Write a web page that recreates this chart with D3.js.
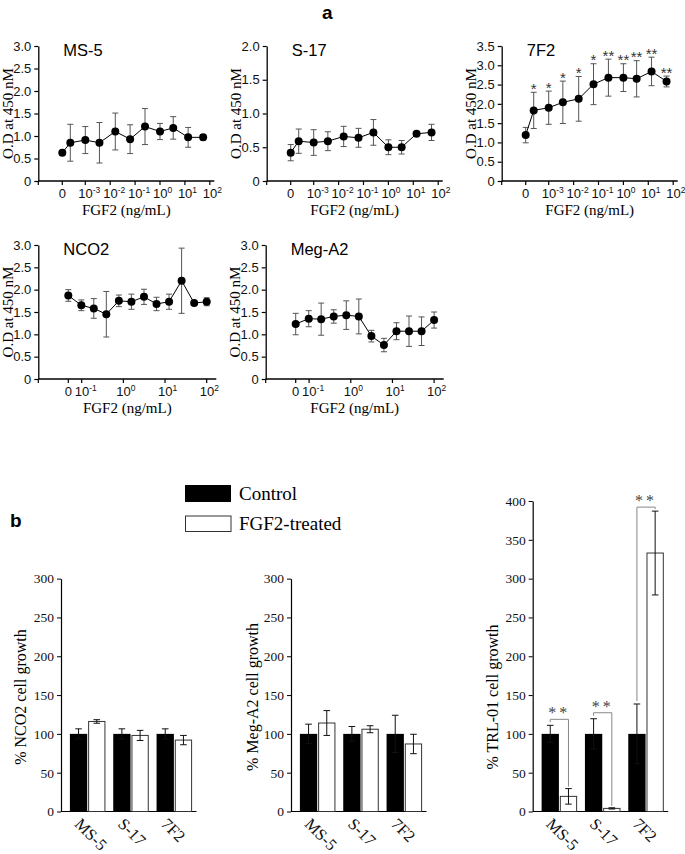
<!DOCTYPE html>
<html><head><meta charset="utf-8">
<script src="https://cdn.jsdelivr.net/npm/d3@7"></script>
<style>body{margin:0;background:#fff} svg{display:block}</style>
</head><body>
<svg id="c" width="685" height="854"></svg>
<script>
// ---------- DATA ----------
// panel a: FGF2 dose (ng/mL) and O.D. at 450 nM (mean, SD)
const doseRow1 = [0, 0.00025, 0.001, 0.0037, 0.016, 0.063, 0.25, 1, 3.4, 13.5, 54];
const doseRow2 = [0, 0.098, 0.195, 0.39, 0.78, 1.56, 3.125, 6.25, 12.5, 25, 50, 100];
const expRow1 = [-3, -2, -1, 0, 1, 2];
const expRow2 = [-1, 0, 1, 2];

const ms5Mean = [0.63, 0.85, 0.91, 0.85, 1.10, 0.93, 1.21, 1.10, 1.18, 0.97, 0.97];
const ms5Err  = [0.04, 0.41, 0.30, 0.45, 0.41, 0.32, 0.40, 0.18, 0.25, 0.22, 0.06];
const s17Mean = [0.42, 0.59, 0.57, 0.59, 0.66, 0.64, 0.72, 0.50, 0.50, 0.70, 0.72];
const s17Err  = [0.12, 0.18, 0.19, 0.14, 0.15, 0.14, 0.19, 0.11, 0.10, 0.02, 0.12];
const f72Mean = [1.19, 1.83, 1.90, 2.04, 2.13, 2.51, 2.68, 2.68, 2.65, 2.84, 2.58];
const f72Err  = [0.20, 0.47, 0.43, 0.55, 0.58, 0.53, 0.48, 0.36, 0.47, 0.37, 0.14];
const f72Sig  = ["", "*", "*", "*", "*", "*", "**", "**", "**", "**", "**"];
const nco2Mean = [1.87, 1.65, 1.58, 1.45, 1.75, 1.73, 1.84, 1.68, 1.73, 2.20, 1.70, 1.73];
const nco2Err  = [0.13, 0.12, 0.22, 0.51, 0.13, 0.17, 0.17, 0.15, 0.17, 0.73, 0.03, 0.09];
const megMean = [1.23, 1.35, 1.34, 1.40, 1.43, 1.40, 0.96, 0.76, 1.07, 1.07, 1.07, 1.32];
const megErr  = [0.24, 0.18, 0.36, 0.15, 0.32, 0.39, 0.13, 0.15, 0.19, 0.34, 0.32, 0.18];

// panel b: % cell growth
const cells = ["MS-5", "S-17", "7F2"];
const groups = ["Control", "FGF2-treated"];
const nco2Ctrl = [100, 100, 100], nco2CtrlErr = [6.5, 6.5, 6.5];
const nco2Trt  = [116, 98, 92],   nco2TrtErr  = [2.3, 6.5, 6];
const megCtrl  = [100, 100, 100], megCtrlErr  = [12.5, 9.5, 24];
const megTrt   = [114, 106, 87],  megTrtErr   = [16, 4.5, 12.5];
const trlCtrl  = [100, 100, 100], trlCtrlErr  = [11, 19.5, 38.5];
const trlTrt   = [19.5, 4, 333],  trlTrtErr   = [10, 0.8, 54];
const trlSig   = ["**", "**", "**"];

// ---------- DRAWING ----------
const svg = d3.select("#c");
const SANS = "'Liberation Sans', Arial, Helvetica, sans-serif";
const SERIF = "'Liberation Serif', 'Times New Roman', serif";

svg.append("text").attr("x", 322).attr("y", 19).attr("font-family", SANS)
  .attr("font-weight", "bold").attr("font-size", 19).text("a");
svg.append("text").attr("x", 10).attr("y", 527).attr("font-family", SANS)
  .attr("font-weight", "bold").attr("font-size", 19).text("b");

function linePanel(o) {
  const g = svg.append("g").attr("transform", `translate(${o.axisX},0)`);
  const y = d3.scaleLinear().domain([0, o.yMax]).range([o.bottom, o.top]);
  const xl = d3.scaleLog().domain(o.logDomain).range(o.logRange);
  const xp = d => d === 0 ? o.zeroPos : xl(d);

  // y axis
  const ya = g.append("g").call(d3.axisLeft(y)
      .tickValues(d3.range(0, o.yMax + 0.001, 0.5))
      .tickFormat(d => d === 0 ? "0" : d3.format(".1f")(d))
      .tickSize(4).tickSizeOuter(0));
  ya.select(".domain").attr("stroke-width", 1.3);
  ya.selectAll(".tick line").attr("stroke-width", 1.2);
  ya.selectAll("text").attr("font-family", SANS).attr("font-size", 13).attr("fill", "#111");

  // x axis
  g.append("line").attr("x1", 0).attr("x2", o.axisLen).attr("y1", o.bottom).attr("y2", o.bottom)
    .attr("stroke", "#000").attr("stroke-width", 1.3);
  const ticks = [{ p: 0 }, { p: o.zeroPos, zero: true }].concat(o.exps.map(e => ({ p: xl(Math.pow(10, e)), e })));
  g.selectAll(".xt").data(ticks).join("line").attr("class", "xt")
    .attr("x1", d => d.p).attr("x2", d => d.p).attr("y1", o.bottom).attr("y2", o.bottom + 4)
    .attr("stroke", "#000").attr("stroke-width", 1.2);
  ticks.filter(d => d.zero).forEach(d => {
    g.append("text").attr("x", d.p).attr("y", o.bottom + 17).attr("text-anchor", "middle")
      .attr("font-family", SANS).attr("font-size", 13).attr("fill", "#111").text("0");
  });
  ticks.filter(d => d.e !== undefined).forEach(d => {
    const t = g.append("text").attr("x", d.p - 7).attr("y", o.bottom + 17)
      .attr("font-family", SANS).attr("font-size", 13).attr("fill", "#111");
    t.append("tspan").text("10");
    t.append("tspan").attr("font-size", 8.5).attr("dy", -5).text(String(d.e));
  });

  // labels
  g.append("text").attr("transform", `translate(${-25.5},${(o.top + o.bottom) / 2}) rotate(-90)`)
    .attr("text-anchor", "middle").attr("font-family", SERIF).attr("font-size", 15).text("O.D at 450 nM");
  g.append("text").attr("x", o.axisLen / 2).attr("y", o.bottom + 34).attr("text-anchor", "middle")
    .attr("font-family", SERIF).attr("font-size", 15).text("FGF2 (ng/mL)");
  g.append("text").attr("x", o.titleX).attr("y", o.top + 9.5).attr("font-family", SANS)
    .attr("font-size", 16.5).text(o.title);

  const data = o.doses.map((d, i) => ({ x: xp(d), m: o.mean[i], e: o.err[i], s: o.sig ? o.sig[i] : "" }));
  // error bars
  const eb = g.selectAll(".eb").data(data).join("g").attr("class", "eb");
  eb.append("line").attr("x1", d => d.x).attr("x2", d => d.x)
    .attr("y1", d => y(d.m - d.e)).attr("y2", d => y(d.m + d.e)).attr("stroke", "#555").attr("stroke-width", 1);
  [1, -1].forEach(sg => eb.append("line").attr("x1", d => d.x - 3).attr("x2", d => d.x + 3)
    .attr("y1", d => y(d.m + sg * d.e)).attr("y2", d => y(d.m + sg * d.e)).attr("stroke", "#555").attr("stroke-width", 1));
  // line
  g.append("path").datum(data).attr("fill", "none").attr("stroke", "#000").attr("stroke-width", 1)
    .attr("d", d3.line().x(d => d.x).y(d => y(d.m)));
  g.selectAll(".pt").data(data).join("circle").attr("class", "pt")
    .attr("cx", d => d.x).attr("cy", d => y(d.m)).attr("r", 4).attr("fill", "#000");
  g.selectAll(".sig").data(data.filter(d => d.s)).join("text").attr("class", "sig")
    .attr("x", d => d.x).attr("y", d => y(d.m + d.e) + 1.5).attr("text-anchor", "middle")
    .attr("font-family", SANS).attr("font-size", 15).attr("fill", "#333").text(d => d.s);
}

const row1 = { top: 46, bottom: 181, zeroPos: 24, logDomain: [1e-3, 1e2], logRange: [47, 171.5], axisLen: 176, exps: expRow1, doses: doseRow1, titleX: 25 };
const row2 = { top: 245, bottom: 379, zeroPos: 30, logDomain: [0.1, 100], logRange: [43.4, 168.4], axisLen: 178, exps: expRow2, doses: doseRow2, titleX: 25 };
linePanel(Object.assign({}, row1, { axisX: 38.3, yMax: 3, mean: ms5Mean, err: ms5Err, title: "MS-5" }));
linePanel(Object.assign({}, row1, { axisX: 266.7, yMax: 2, mean: s17Mean, err: s17Err, title: "S-17" }));
linePanel(Object.assign({}, row1, { axisX: 501.7, yMax: 3.5, mean: f72Mean, err: f72Err, sig: f72Sig, title: "7F2" }));
linePanel(Object.assign({}, row2, { axisX: 38.3, yMax: 3, mean: nco2Mean, err: nco2Err, title: "NCO2" }));
linePanel(Object.assign({}, row2, { axisX: 265.7, yMax: 3, mean: megMean, err: megErr, title: "Meg-A2" }));

// legend
const lg = svg.append("g");
lg.append("rect").attr("x", 185).attr("y", 485).attr("width", 46).attr("height", 17).attr("fill", "#000");
lg.append("rect").attr("x", 185.5).attr("y", 516).attr("width", 45.5).attr("height", 15.5)
  .attr("fill", "#fff").attr("stroke", "#333").attr("stroke-width", 1);
lg.append("text").attr("x", 239).attr("y", 500).attr("font-family", SERIF).attr("font-size", 19).text(groups[0]);
lg.append("text").attr("x", 239).attr("y", 529.5).attr("font-family", SERIF).attr("font-size", 19).text(groups[1]);

function barPanel(o) {
  const base = 811.5, ppu = 0.7762;
  const g = svg.append("g");
  const y = d3.scaleLinear().domain([0, o.yMax]).range([base, base - o.yMax * ppu]);
  const x0 = d3.scaleBand().domain(cells).range([o.axisX + 5, o.axisX + 135]).paddingInner(0.18).paddingOuter(0.09);
  const x1 = d3.scaleBand().domain(groups).range([0, x0.bandwidth()]).paddingInner(0.05);

  const ya = g.append("g").attr("transform", `translate(${o.axisX},0)`)
    .call(d3.axisLeft(y).tickValues(d3.range(0, o.yMax + 1, 50)).tickSize(4).tickSizeOuter(0));
  ya.select(".domain").attr("stroke-width", 1.2);
  ya.selectAll("text").attr("font-family", SERIF).attr("font-size", 13.5).attr("fill", "#111");
  g.append("line").attr("x1", o.axisX).attr("x2", o.axisX + 135.5).attr("y1", base).attr("y2", base)
    .attr("stroke", "#000").attr("stroke-width", 1.2);

  const rows = cells.map((c, i) => ({
    c, ctrl: o.ctrl[i], ctrlErr: o.ctrlErr[i], trt: o.trt[i], trtErr: o.trtErr[i], sig: o.sig ? o.sig[i] : ""
  }));
  const gg = g.selectAll(".grp").data(rows).join("g").attr("class", "grp")
    .attr("transform", d => `translate(${x0(d.c)},0)`);
  const bw = x1.bandwidth();
  gg.append("rect").attr("x", x1("Control")).attr("width", bw)
    .attr("y", d => y(d.ctrl)).attr("height", d => base - y(d.ctrl)).attr("fill", "#000");
  gg.append("rect").attr("x", x1("FGF2-treated") + 0.5).attr("width", bw - 1)
    .attr("y", d => y(d.trt)).attr("height", d => base - y(d.trt)).attr("fill", "#fff")
    .attr("stroke", "#333").attr("stroke-width", 1);
  function errbar(cx, m, e) {
    gg.append("line").attr("x1", cx).attr("x2", cx).attr("y1", d => y(m(d) - e(d))).attr("y2", d => y(m(d) + e(d)))
      .attr("stroke", "#111").attr("stroke-width", 1);
    [1, -1].forEach(s => gg.append("line").attr("x1", cx - 3.3).attr("x2", cx + 3.3)
      .attr("y1", d => y(m(d) + s * e(d))).attr("y2", d => y(m(d) + s * e(d))).attr("stroke", "#111").attr("stroke-width", 1));
  }
  const cC = x1("Control") + bw / 2, cT = x1("FGF2-treated") + bw / 2;
  errbar(cC, d => d.ctrl, d => d.ctrlErr);
  errbar(cT, d => d.trt, d => d.trtErr);

  if (o.sig) {
    rows.forEach((d, i) => {
      const ox = x0(d.c);
      const yc = y(d.ctrl + d.ctrlErr) - 3, yt = y(d.trt + d.trtErr) - 2;
      const by = Math.min(yc, yt) - (i === 2 ? 2 : 3);
      g.append("path").attr("d", `M${ox + cC},${yc}V${by}H${ox + cT}V${yt}`)
        .attr("fill", "none").attr("stroke", "#888").attr("stroke-width", 1);
      g.append("text").attr("x", ox + (cC + cT) / 2).attr("y", by - 1).attr("text-anchor", "middle")
        .attr("font-family", SERIF).attr("font-size", 16).attr("letter-spacing", 3).attr("fill", "#444").text(d.sig);
    });
  }

  // category labels
  g.selectAll(".cl").data(cells).join("text").attr("class", "cl")
    .attr("transform", d => `translate(${x0(d) + x0.bandwidth() / 2 - 14},${825}) rotate(45)`)
    .attr("font-family", SERIF).attr("font-size", 16.5).attr("fill", "#111").text(d => d);
  g.append("text").attr("transform", `translate(${o.axisX - o.labOff},${697}) rotate(-90)`)
    .attr("text-anchor", "middle").attr("font-family", SERIF).attr("font-size", 16).text(o.label);
}

barPanel({ axisX: 61, yMax: 300, ctrl: nco2Ctrl, ctrlErr: nco2CtrlErr, trt: nco2Trt, trtErr: nco2TrtErr, label: "% NCO2 cell growth", labOff: 35 });
barPanel({ axisX: 291, yMax: 300, ctrl: megCtrl, ctrlErr: megCtrlErr, trt: megTrt, trtErr: megTrtErr, label: "% Meg-A2 cell growth", labOff: 33 });
barPanel({ axisX: 532.7, yMax: 400, ctrl: trlCtrl, ctrlErr: trlCtrlErr, trt: trlTrt, trtErr: trlTrtErr, sig: trlSig, label: "% TRL-01 cell growth", labOff: 35 });
</script>
</body></html>
